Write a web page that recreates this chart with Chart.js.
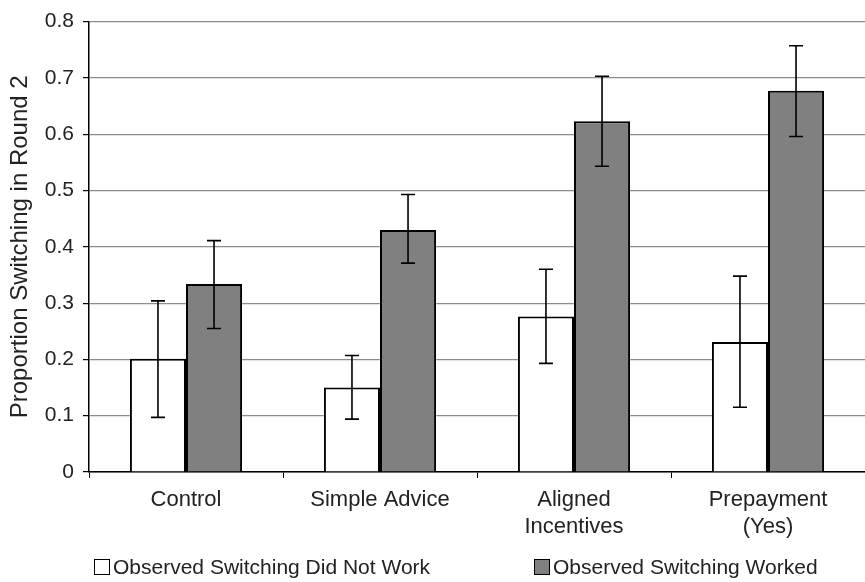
<!DOCTYPE html>
<html>
<head>
<meta charset="utf-8">
<script src="https://cdn.jsdelivr.net/npm/chart.js@4.4.0/dist/chart.umd.min.js"></script>
<style>
  body { margin: 0; background: #fff; }
  #wrap { position: relative; width: 865px; height: 582px; }
  #legend { position: absolute; left: 0; top: 555px; width: 865px; height: 24px;
    font-family: "Liberation Sans", Arial, sans-serif; font-size: 21px; color: #222; }
  .item { position: absolute; top: 0; display: flex; align-items: center; height: 24px; }
  .box { width: 14px; height: 14px; border: 1.5px solid #000; margin-right: 3px; }
</style>
</head>
<body>
<div id="wrap">
  <canvas id="chart" width="865" height="582"></canvas>
  <div id="legend">
    <div class="item" style="left:94px"><span class="box" style="background:#fff"></span>Observed Switching Did Not Work</div>
    <div class="item" style="left:534px"><span class="box" style="background:#808080"></span>Observed Switching Worked</div>
  </div>
</div>
<script>
var categories = ['Control', 'Simple Advice', ['Aligned', 'Incentives'], ['Prepayment', '(Yes)']];

var didNotWork = [0.201, 0.150, 0.276, 0.231];
var didNotWorkLow = [0.097, 0.094, 0.193, 0.115];
var didNotWorkHigh = [0.304, 0.207, 0.360, 0.348];

var worked = [0.334, 0.430, 0.623, 0.677];
var workedLow = [0.255, 0.371, 0.543, 0.596];
var workedHigh = [0.411, 0.493, 0.703, 0.757];

var errLow = [didNotWorkLow, workedLow];
var errHigh = [didNotWorkHigh, workedHigh];

var font = '"Liberation Sans", Arial, sans-serif';

// draws the error bars on top of the bars
var errorBars = {
    id: 'errorBars',
    afterDatasetsDraw: function (chart) {
        var ctx = chart.ctx;
        var y = chart.scales.y;
        ctx.save();
        ctx.strokeStyle = '#000';
        ctx.lineWidth = 1.6;
        chart.data.datasets.forEach(function (ds, di) {
            var meta = chart.getDatasetMeta(di);
            meta.data.forEach(function (bar, i) {
                var top = y.getPixelForValue(errHigh[di][i]);
                var bot = y.getPixelForValue(errLow[di][i]);
                ctx.beginPath();
                ctx.moveTo(bar.x, top);
                ctx.lineTo(bar.x, bot);
                ctx.moveTo(bar.x - 7, top);
                ctx.lineTo(bar.x + 7, top);
                ctx.moveTo(bar.x - 7, bot);
                ctx.lineTo(bar.x + 7, bot);
                ctx.stroke();
            });
        });
        ctx.restore();
    }
};

var ctx = document.getElementById('chart').getContext('2d');
var myChart = new Chart(ctx, {
    type: 'bar',
    data: {
        labels: categories,
        datasets: [{
            label: 'Observed Switching Did Not Work',
            data: didNotWork,
            backgroundColor: '#ffffff',
            borderColor: '#000',
            borderWidth: 2
        }, {
            label: 'Observed Switching Worked',
            data: worked,
            backgroundColor: '#808080',
            borderColor: '#000',
            borderWidth: 2
        }]
    },
    options: {
        responsive: false,
        animation: false,
        layout: { padding: { top: 18, right: 0, left: 0, bottom: 0 } },
        categoryPercentage: 0.578,
        barPercentage: 1.0,
        plugins: {
            legend: { display: false },
            tooltip: { enabled: false }
        },
        scales: {
            x: {
                afterFit: function (scale) { scale.height = 110; },
                grid: { display: true, drawOnChartArea: false, offset: true, tickLength: 6, color: '#000', lineWidth: 1 },
                border: { color: '#000', width: 1.5 },
                ticks: { color: '#222', padding: 9, font: { family: font, size: 22, lineHeight: 1.2 }, maxRotation: 0, autoSkip: false }
            },
            y: {
                min: 0,
                max: 0.8,
                afterFit: function (scale) { scale.width = 89; },
                grid: { color: '#8c8c8c', lineWidth: 1.2, tickLength: 6, tickColor: '#000' },
                border: { color: '#000', width: 1.5 },
                ticks: {
                    stepSize: 0.1,
                    color: '#222',
                    padding: 9,
                    font: { family: font, size: 21 },
                    callback: function (v) { return v === 0 ? '0' : v.toFixed(1); }
                },
                title: {
                    display: true,
                    text: 'Proportion Switching in Round 2',
                    color: '#222',
                    font: { family: font, size: 24 },
                    padding: { top: 6, bottom: 0 }
                }
            }
        }
    },
    plugins: [errorBars]
});
</script>
</body>
</html>
